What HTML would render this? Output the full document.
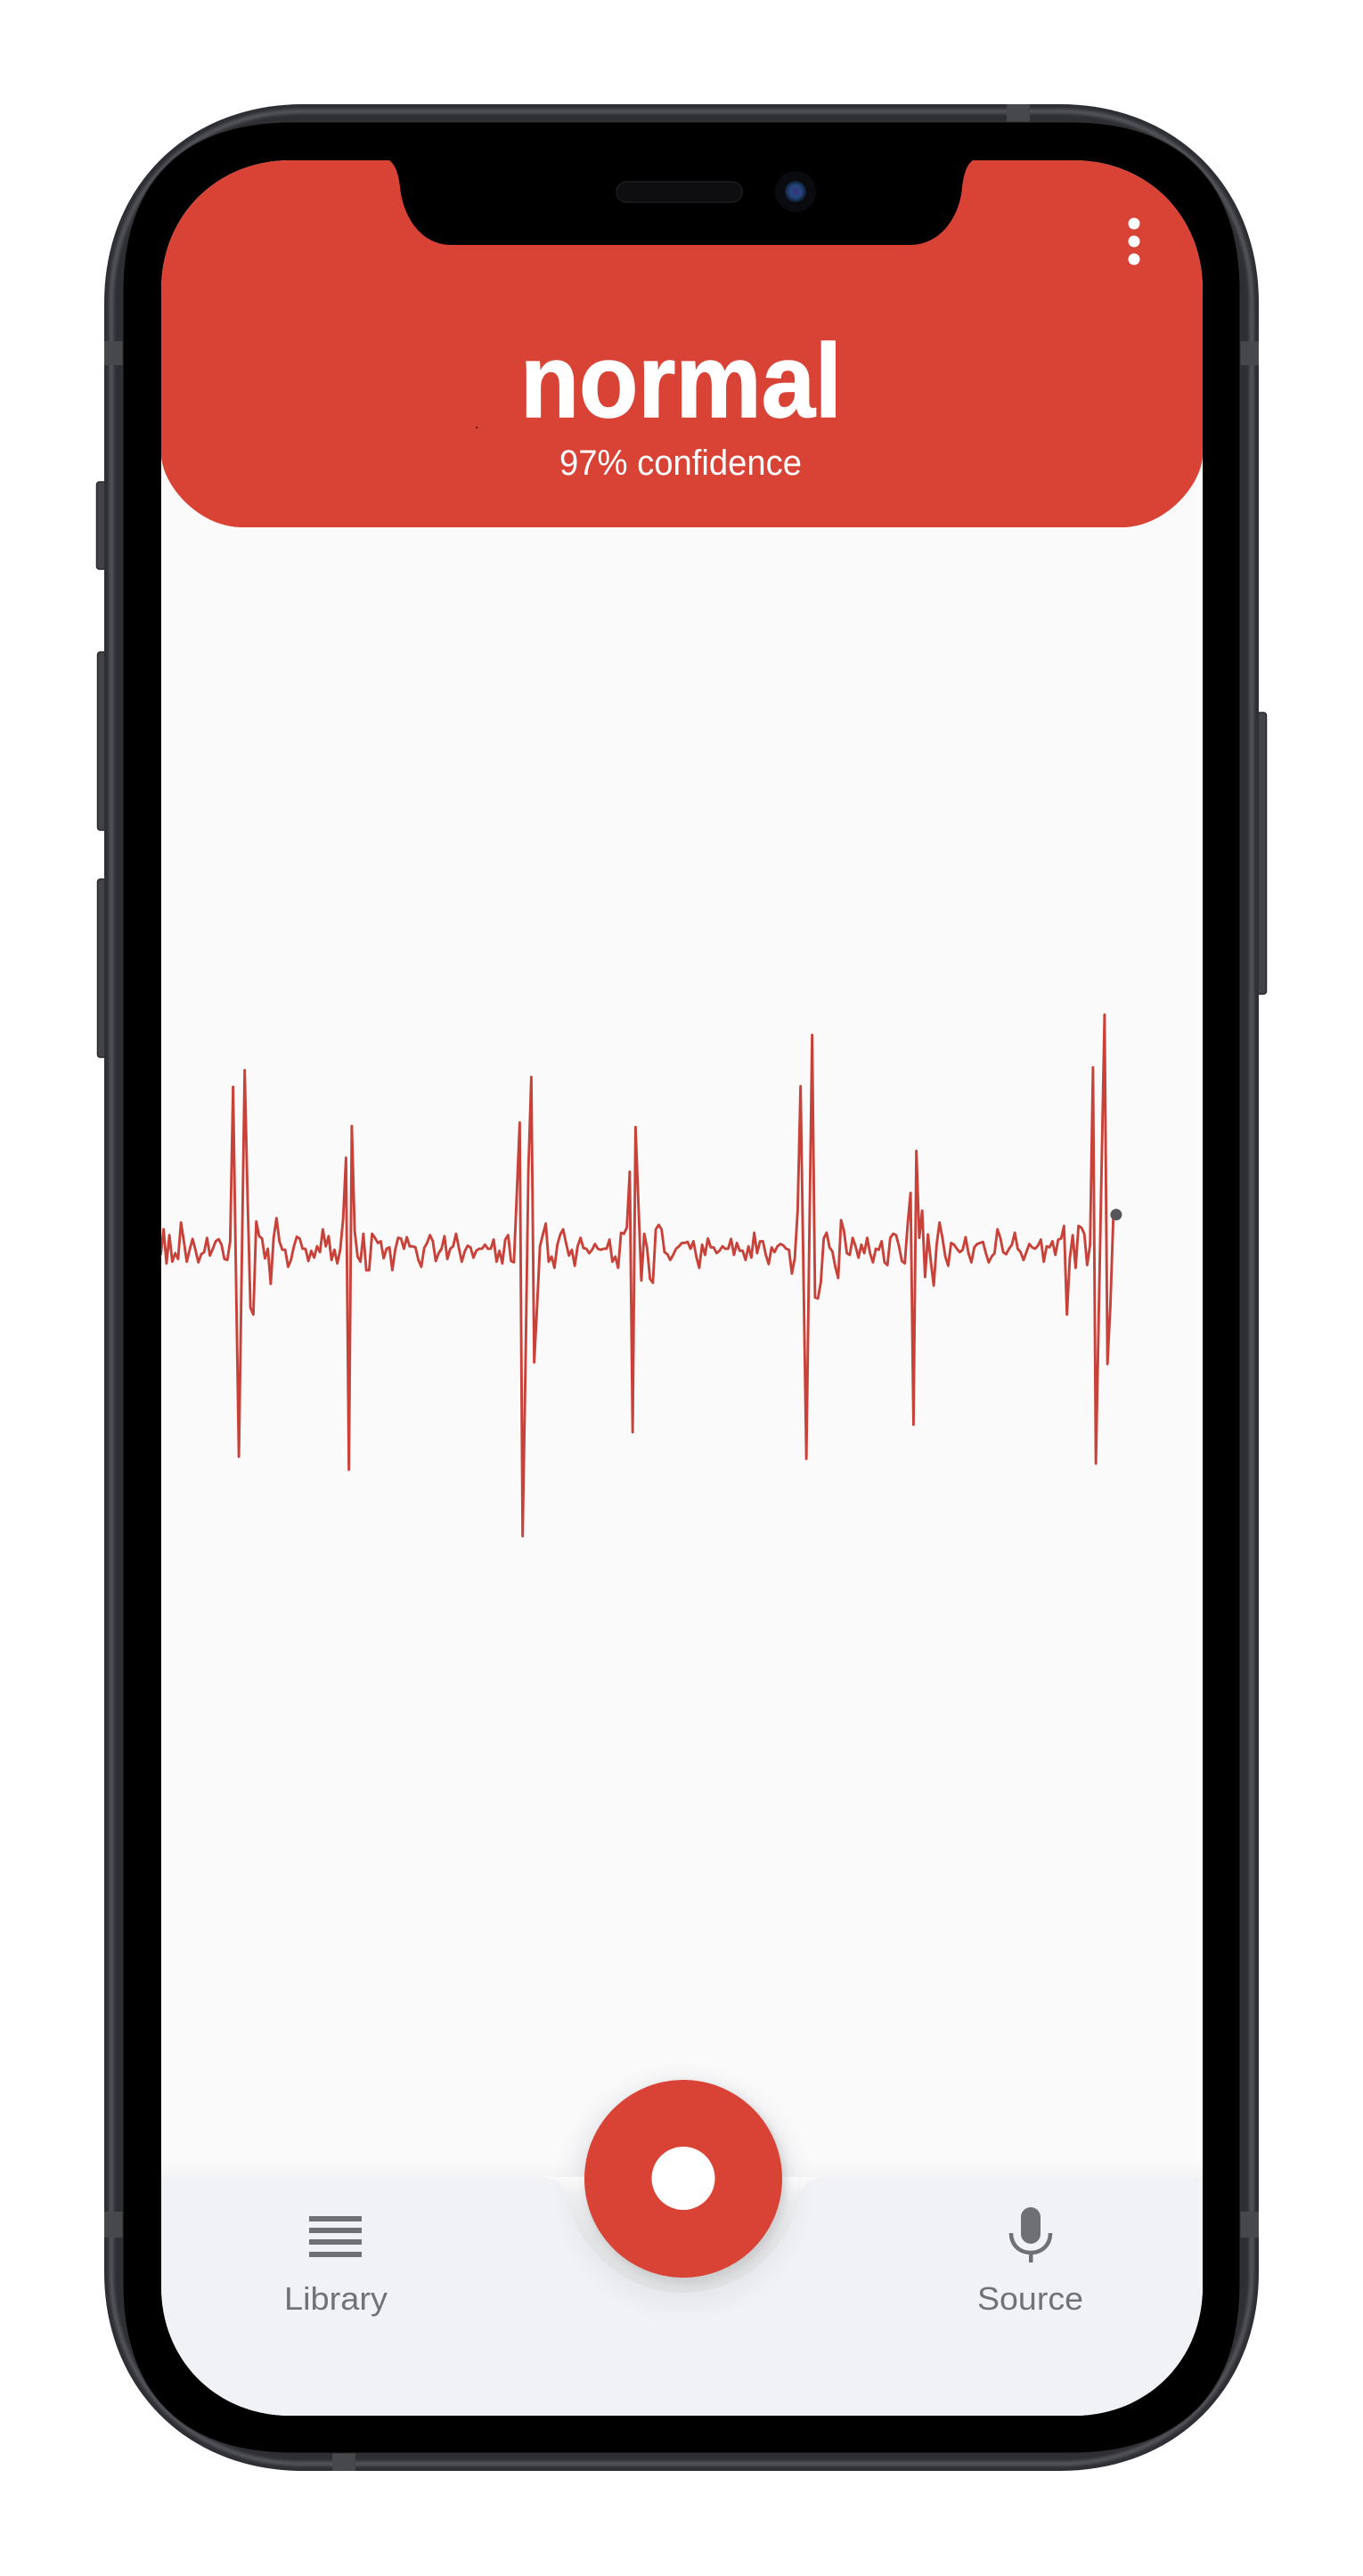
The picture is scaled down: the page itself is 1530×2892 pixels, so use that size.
<!DOCTYPE html>
<html lang="en">
<head>
<meta charset="utf-8">
<title>Heart sound classifier</title>
<style>
  html, body { margin: 0; padding: 0; background: #ffffff; }
  body { width: 1530px; height: 2892px; overflow: hidden; }
  svg { display: block; }
  text { font-family: "Liberation Sans", sans-serif; }
</style>
</head>
<body>
<svg id="stage" xmlns="http://www.w3.org/2000/svg" width="1530" height="2892" viewBox="0 0 1530 2892">
  <defs>
    <clipPath id="screen-clip">
      <path d="M326 180 H1205 C1288 180 1350 242 1350 325 V2567 C1350 2650 1288 2712 1205 2712 H326 C243 2712 181 2650 181 2567 V325 C181 242 243 180 326 180Z"/>
    </clipPath>
    <linearGradient id="halo-fill" x1="0" y1="0" x2="0" y2="1">
      <stop offset="0" stop-color="#fafafa"/>
      <stop offset="0.2" stop-color="#ebecee"/>
      <stop offset="0.5" stop-color="#e3e4e6"/>
      <stop offset="1" stop-color="#dfe0e2"/>
    </linearGradient>
    <linearGradient id="nav-top-shadow" x1="0" y1="0" x2="0" y2="1">
      <stop offset="0" stop-color="#fafafa"/>
      <stop offset="1" stop-color="#f6f5f5"/>
    </linearGradient>
    <radialGradient id="lens-fill" cx="0.5" cy="0.5" r="0.5">
      <stop offset="0" stop-color="#3a2f7a"/>
      <stop offset="0.55" stop-color="#24487f"/>
      <stop offset="1" stop-color="#101c30"/>
    </radialGradient>
    <filter id="soft-blur" x="-30%" y="-30%" width="160%" height="160%">
      <feGaussianBlur stdDeviation="11"/>
    </filter>
    <filter id="tight-blur" x="-20%" y="-20%" width="140%" height="140%">
      <feGaussianBlur stdDeviation="5"/>
    </filter>
    <filter id="band-blur" x="-2%" y="-2%" width="104%" height="104%">
      <feGaussianBlur stdDeviation="1.6"/>
    </filter>
  </defs>

  <rect x="0" y="0" width="1530" height="2892" fill="#ffffff"/>

  <g>
    <rect x="108.500" y="541" width="13" height="98" rx="3" fill="#434449" stroke="#26272b" stroke-width="1.500"/>
    <rect x="109.500" y="732" width="12" height="200" rx="3" fill="#434449" stroke="#26272b" stroke-width="1.500"/>
    <rect x="109.500" y="987" width="12" height="200" rx="3" fill="#434449" stroke="#26272b" stroke-width="1.500"/>
    <rect x="1408" y="800" width="13.500" height="316" rx="3" fill="#434449" stroke="#26272b" stroke-width="1.500"/>
  </g>

  <path d="M340 117 H1190 C1320 117 1413 210 1413 340 V2551 C1413 2681 1320 2774 1190 2774 H340 C210 2774 117 2681 117 2551 V340 C117 210 210 117 340 117Z" fill="#2e2f34"/>
  <path d="M340 125 H1190 C1315 125 1405 215 1405 340 V2551 C1405 2676 1315 2766 1190 2766 H340 C215 2766 125 2676 125 2551 V340 C125 215 215 125 340 125Z" fill="none" stroke="#54555b" stroke-width="5" filter="url(#band-blur)"/>

  <g fill="#47484c">
    <rect x="1130" y="117" width="26" height="20"/>
    <rect x="373" y="2754" width="26" height="20"/>
    <rect x="117" y="383" width="21" height="27"/>
    <rect x="1392" y="383" width="21" height="27"/>
    <rect x="117" y="2483" width="21" height="29"/>
    <rect x="1392" y="2483" width="21" height="29"/>
  </g>

  <path d="M328 137 H1202 C1325 137 1392 204 1392 327 V2564 C1392 2687 1325 2754 1202 2754 H328 C205 2754 138 2687 138 2564 V327 C138 204 205 137 328 137Z" fill="#000000" stroke="#303030" stroke-width="1"/>

  <g clip-path="url(#screen-clip)">
    <rect x="181" y="180" width="1169" height="2532" fill="#fafafa"/>

    <path d="M181 180 H1350 V510 C1350 543 1309 592 1259 592 H272 C222 592 181 543 181 510Z" fill="#d94335"/>
    <rect x="534.500" y="479" width="1.500" height="2" fill="#1a0a08"/>

    <text x="584" y="468" font-size="117" font-weight="700" fill="#ffffff" stroke="#ffffff" stroke-width="1.500" textLength="361" lengthAdjust="spacingAndGlyphs">normal</text>
    <text x="628" y="533" font-size="40" fill="#ffffff" textLength="272" lengthAdjust="spacingAndGlyphs">97% confidence</text>

    <g fill="#ffffff">
      <circle cx="1273" cy="251" r="6.500"/>
      <circle cx="1273" cy="271" r="6.500"/>
      <circle cx="1273" cy="291" r="6.500"/>
    </g>

    <g id="waveform-layer"></g>

    <rect x="181" y="2424" width="1169" height="20" fill="url(#nav-top-shadow)"/>
    <rect x="181" y="2444" width="1169" height="268" fill="#f1f2f6"/>
    <circle cx="767" cy="2462" r="130" fill="#dfe0e6" opacity="0.55" filter="url(#soft-blur)"/>
    <path d="M603 2444 C625 2444 632 2452 638 2470 A132 132 0 0 0 896 2470 C902 2452 909 2444 931 2444Z" fill="url(#halo-fill)"/>
    <circle cx="770" cy="2452" r="112" fill="#c4c5c8" opacity="0.75" filter="url(#tight-blur)"/>

    <g>
      <g fill="#6f7075">
        <rect x="347" y="2488" width="59" height="6"/>
        <rect x="347" y="2501" width="59" height="6"/>
        <rect x="347" y="2514" width="59" height="6"/>
        <rect x="347" y="2528" width="59" height="6"/>
      </g>
      <text x="319" y="2593" font-size="36" fill="#717276" textLength="116" lengthAdjust="spacingAndGlyphs">Library</text>
    </g>

    <g>
      <g>
        <rect x="1146" y="2478" width="22" height="41" rx="11" fill="#6f7075"/>
        <path d="M1135 2507 C1135 2521 1145 2529 1157 2529 C1169 2529 1179 2521 1179 2507" fill="none" stroke="#6f7075" stroke-width="4.500"/>
        <rect x="1155" y="2528" width="4.500" height="12" fill="#6f7075"/>
      </g>
      <text x="1097" y="2593" font-size="36" fill="#717276" textLength="119" lengthAdjust="spacingAndGlyphs">Source</text>
    </g>

    <g>
      <circle cx="767" cy="2446" r="111" fill="#d94335"/>
      <circle cx="767" cy="2445.500" r="35.500" fill="#ffffff"/>
    </g>

    <path d="M433 178 H1096 Q1083 182 1080 210 C1078 240 1058 275 1021 275 H507 C470 275 452 240 449 210 Q446 182 433 178Z" fill="#000000"/>
  </g>

  <g>
    <rect x="692" y="204" width="141" height="23" rx="11.500" fill="#0e0e10" stroke="#1d1d20" stroke-width="1.500"/>
    <circle cx="893" cy="215" r="23" fill="#0a0b0f"/>
    <circle cx="893" cy="215" r="12" fill="url(#lens-fill)"/>
  </g>
</svg>

<script>
// Recorded signal amplitude, one value per sample (arbitrary units).
const amplitudes = [
  -10, 65, -35, 48, -30, -5, -22, 85, 30, -30, 5, 37, 5, -32, -8, -2, 40, -12, 8, 30,
  36, 20, -22, -25, 30, 483, -70, -602, -35, 532, 160, -165, -185, 88, 45, 38, -20, 8, -95, 40,
  98, 30, 5, 5, -45, -25, 15, 43, 38, 8, 8, -28, 2, -18, 15, -2, 65, 15, 45, -25,
  5, -35, 5, 95, 275, -640, 368, 60, -15, -30, 52, -55, -55, 52, 40, 25, 30, -20, 8, 12,
  -55, 5, 40, 38, 8, 42, 15, 15, 12, -25, -45, 10, 25, 48, 30, -28, -5, 8, 45, -22,
  8, 15, 52, 10, -30, 0, 17, 12, -18, 2, 8, 8, 20, 8, 8, 35, -30, 2, -35, 35,
  48, -28, -32, 170, 378, -835, -330, 240, 512, -325, -160, 15, 50, 82, -30, -15, -48, 20, 50, 65,
  25, -12, 5, -42, 15, 40, 10, 8, -5, 5, 22, 8, 5, 8, 8, 35, -30, -15, -48, 55,
  52, 70, 234, -530, 365, 140, -85, 52, 10, -80, -92, 65, 78, 65, -2, -8, -25, -10, 8, 15,
  25, 25, 28, 8, 30, -15, -48, 20, -10, 38, 12, 12, -5, 2, 15, 8, 8, 37, -10, 25,
  2, 2, -25, 15, -18, 55, -5, 30, 30, -10, -37, 12, -2, 15, 22, 18, 8, 5, -65, -20,
  120, 485, -60, -608, 20, 635, -135, -138, -90, 38, 55, 12, 0, -45, -78, 92, 60, -5, -10, 40,
  15, -18, 20, -5, 40, -5, -32, 8, 5, 30, -32, -40, 40, 52, 48, 15, -28, -35, 80, 172,
  -508, 295, 40, 120, -75, 50, -30, -100, 20, 85, 40, -15, -42, 25, 20, 8, -2, 5, 42, -5,
  -32, 12, 22, 25, 28, -5, -32, -15, -5, 65, 40, -2, -8, 8, 20, 55, 8, -2, -25, -2,
  22, 12, 8, 17, 35, -30, 15, 12, 30, -10, 35, 38, 75, -185, -20, 48, -48, 75, 70, 52,
  -40, 20, 540, -622, -183, 256, 695, -330, -160, 95, 108
];

// Value axis extent and sample-axis placement.
const amplitudeDomain = [-1000, 1000];
const amplitudeRange = [1787.7, 1022.3];
const sampleOrigin = 180.4;
const sampleSpacing = 3.25;

function xScale(index) {
  return sampleOrigin + sampleSpacing * index;
}

function yScale(value) {
  const t = (value - amplitudeDomain[0]) / (amplitudeDomain[1] - amplitudeDomain[0]);
  return amplitudeRange[0] + t * (amplitudeRange[1] - amplitudeRange[0]);
}

(function drawWaveform() {
  const ns = 'http://www.w3.org/2000/svg';
  const layer = document.getElementById('waveform-layer');

  const line = document.createElementNS(ns, 'polyline');
  
  
  line.setAttribute('points', amplitudes.map(function (v, i) {
    return xScale(i).toFixed(2) + ',' + yScale(v).toFixed(2);
  }).join(' '));
  line.setAttribute('fill', 'none');
  line.setAttribute('stroke', '#c8423a');
  line.setAttribute('stroke-width', '2.9');
  line.setAttribute('stroke-linejoin', 'round');
  layer.appendChild(line);

  const last = amplitudes.length - 1;
  const head = document.createElementNS(ns, 'circle');
  
  
  head.setAttribute('cx', xScale(last).toFixed(2));
  head.setAttribute('cy', yScale(amplitudes[last]).toFixed(2));
  head.setAttribute('r', '6.5');
  head.setAttribute('fill', '#55565b');
  layer.appendChild(head);
})();
</script>
</body>
</html>
